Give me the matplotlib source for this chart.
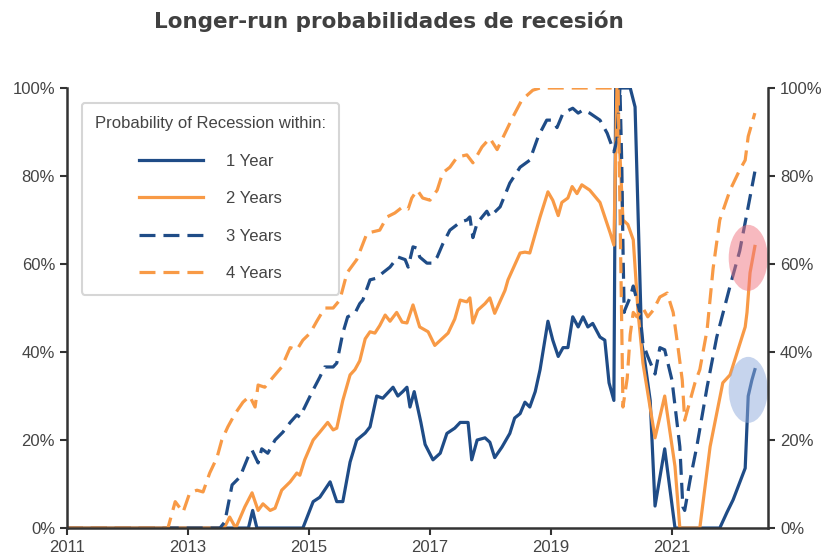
import matplotlib.pyplot as plt
from matplotlib.patches import Ellipse

# decimal years / percent
yr1_x = [2011.0, 2014.00, 2014.07, 2014.14, 2014.90, 2015.07, 2015.18, 2015.35, 2015.46, 2015.56,
         2015.68, 2015.79, 2015.93, 2016.01, 2016.12, 2016.22, 2016.39, 2016.47, 2016.55, 2016.62,
         2016.67, 2016.74, 2016.85, 2016.92, 2017.05, 2017.17, 2017.28, 2017.41, 2017.50, 2017.63,
         2017.69, 2017.78, 2017.91, 2017.99, 2018.07, 2018.19, 2018.32, 2018.40, 2018.49, 2018.57,
         2018.65, 2018.74, 2018.82, 2018.95, 2019.03, 2019.12, 2019.20, 2019.28, 2019.36, 2019.45,
         2019.53, 2019.61, 2019.69, 2019.81, 2019.89, 2019.96, 2020.04, 2020.07, 2020.31, 2020.39,
         2020.50, 2020.55, 2020.64, 2020.72, 2020.88, 2021.05, 2021.79, 2021.91, 2022.01, 2022.21,
         2022.26, 2022.32, 2022.37]
yr1_y = [0, 0, 4, 0, 0, 6, 7, 10.5, 6, 6,
         15, 20, 21.6, 23, 30, 29.5, 32, 30, 31, 32,
         27.5, 31, 24, 19, 15.5, 17, 21.5, 22.7, 24, 24,
         15.5, 20, 20.5, 19.5, 16, 18.4, 21.5, 25, 26, 28.6,
         27.5, 31, 36, 47, 42.7, 39, 41, 41, 48, 45.7,
         48, 45.7, 46.5, 43.4, 42.7, 33, 29, 100, 100, 95.7,
         42, 38, 29, 5, 18, 0, 0, 3.6, 6.4, 13.6,
         30, 33.6, 36]

yr2_x = [2011.0, 2013.60, 2013.69, 2013.79, 2013.94, 2014.06, 2014.16, 2014.24, 2014.36, 2014.44,
         2014.55, 2014.69, 2014.80, 2014.85, 2014.93, 2015.07, 2015.18, 2015.31, 2015.40, 2015.46,
         2015.56, 2015.68, 2015.76, 2015.84, 2015.93, 2016.01, 2016.09, 2016.17, 2016.26, 2016.34,
         2016.45, 2016.54, 2016.62, 2016.72, 2016.83, 2016.97, 2017.08, 2017.30, 2017.41, 2017.50,
         2017.61, 2017.66, 2017.71, 2017.79, 2017.91, 2017.99, 2018.07, 2018.24, 2018.29, 2018.49,
         2018.57, 2018.65, 2018.82, 2018.95, 2019.03, 2019.12, 2019.18, 2019.28, 2019.35, 2019.43,
         2019.51, 2019.64, 2019.81, 2019.89, 2019.98, 2020.04, 2020.09, 2020.19, 2020.27, 2020.36,
         2020.44, 2020.52, 2020.72, 2020.88, 2021.05, 2021.13, 2021.46, 2021.63, 2021.84, 2021.96,
         2022.21, 2022.24, 2022.29, 2022.37]
yr2_y = [0, 0, 2.5, 0, 4.8, 8, 4, 5.5, 4, 4.5,
         8.6, 10.5, 12.5, 12, 15.5, 20, 21.8, 24, 22.3, 22.7,
         29, 34.8, 36, 38, 43, 44.6, 44.3, 46, 48.4, 47,
         49, 46.8, 46.6, 50.7, 45.7, 44.6, 41.5, 44.3, 47.5, 51.8,
         51.4, 52.3, 46.6, 49.5, 51, 52.3, 48.8, 54, 56.4, 62.5,
         62.7, 62.5, 70.7, 76.4, 74.5, 71, 74, 75, 77.6, 76,
         78, 76.8, 74, 70.7, 67, 64.3, 100, 70, 69, 65.5,
         49, 37.5, 20.5, 30, 14, 0, 0, 18.5, 33, 34.8,
         45.7, 49, 58, 64]

yr3_x = [2011.0, 2013.53, 2013.61, 2013.73, 2013.86, 2013.99, 2014.06, 2014.16, 2014.22, 2014.32,
         2014.44, 2014.57, 2014.69, 2014.80, 2014.85, 2014.97, 2015.07, 2015.18, 2015.26, 2015.40,
         2015.46, 2015.56, 2015.64, 2015.76, 2015.84, 2015.89, 2016.01, 2016.12, 2016.22, 2016.34,
         2016.47, 2016.59, 2016.64, 2016.72, 2016.79, 2016.83, 2016.95, 2017.05, 2017.12, 2017.21,
         2017.33, 2017.50, 2017.61, 2017.66, 2017.71, 2017.78, 2017.94, 2017.99, 2018.16, 2018.32,
         2018.49, 2018.65, 2018.79, 2018.93, 2019.02, 2019.10, 2019.20, 2019.36, 2019.45, 2019.53,
         2019.64, 2019.81, 2019.93, 2020.01, 2020.04, 2020.09, 2020.14, 2020.17, 2020.19, 2020.21,
         2020.22, 2020.31, 2020.36, 2020.42, 2020.47, 2020.52, 2020.60, 2020.72, 2020.80, 2020.88,
         2021.00, 2021.13, 2021.18, 2021.21, 2021.30, 2021.41, 2021.58, 2021.74, 2021.96, 2022.12,
         2022.24, 2022.37]
yr3_y = [0, 0, 1.4, 9.8, 11.6, 16, 17.7, 14.8, 18, 17,
         20, 21.8, 24, 25.7, 25.2, 28.6, 31.4, 34.3, 36.6, 36.6,
         37.5, 44.3, 48, 48.8, 51, 51.8, 56.4, 56.8, 58, 59.3,
         61.6, 61, 59.3, 63.9, 63.6, 61.6, 60.2, 60.2, 61.6, 64.5,
         67.7, 69.5, 70, 70.7, 66, 69.3, 72, 70.7, 73, 78.4,
         82, 83.6, 89, 92.7, 92.7, 91, 94.3, 95.4, 94.3, 95,
         94.3, 92.7, 89.7, 86.7, 85.5, 88, 100, 83, 64, 49,
         49.5, 52.5, 55, 51.8, 49, 42, 39, 35, 41, 40.5,
         33.6, 18.5, 4.8, 4, 11, 18.5, 32, 43.4, 55, 63,
         71.6, 81]

yr4_x = [2011.0, 2012.67, 2012.79, 2012.92, 2013.03, 2013.15, 2013.25, 2013.36, 2013.48, 2013.56,
         2013.66, 2013.78, 2013.91, 2014.02, 2014.11, 2014.16, 2014.27, 2014.39, 2014.55, 2014.69,
         2014.80, 2014.90, 2015.02, 2015.13, 2015.26, 2015.40, 2015.51, 2015.63, 2015.79, 2015.96,
         2016.17, 2016.29, 2016.42, 2016.55, 2016.64, 2016.70, 2016.79, 2016.88, 2017.00, 2017.12,
         2017.21, 2017.33, 2017.45, 2017.61, 2017.71, 2017.86, 2017.99, 2018.11, 2018.24, 2018.37,
         2018.52, 2018.70, 2018.82, 2020.11, 2020.19, 2020.26, 2020.31, 2020.36, 2020.42, 2020.52,
         2020.60, 2020.69, 2020.80, 2020.92, 2021.02, 2021.10, 2021.17, 2021.21, 2021.30, 2021.38,
         2021.46, 2021.58, 2021.68, 2021.79, 2021.96, 2022.12, 2022.21, 2022.26, 2022.37]
yr4_y = [0, 0, 6, 3.6, 8, 8.6, 8.2, 12.5, 16, 20,
         23, 26, 28.6, 30, 27.5, 32.5, 32, 34, 36.6, 41,
         40.5, 42.7, 44.3, 47, 50, 50, 51.8, 58, 61, 67,
         67.7, 70.7, 71.6, 73, 72.5, 75, 76.8, 75, 74.5, 76.8,
         80.7, 82, 84.3, 84.8, 83, 86.6, 88.6, 86, 89.7, 93.4,
         97.3, 99.5, 100, 100, 27.5, 34, 44, 49, 48, 50,
         48, 49.5, 52.5, 53.4, 49, 41, 33.6, 24.5, 29, 33,
         36, 45, 59, 70, 76.8, 81.4, 83.6, 89, 94.3]

year_ticks = [2011, 2013, 2015, 2017, 2019, 2021]
pct_ticks = [0, 20, 40, 60, 80, 100]

NAVY = '#1f4c87'
ORANGE = '#f89a46'
DARK = '#333333'
GREY_TXT = '#444444'

plt.rcParams['font.family'] = ['Liberation Sans', 'DejaVu Sans']

fig = plt.figure(figsize=(8.26, 5.57), dpi=100)
ax = fig.add_axes([0.081, 0.052, 0.849, 0.79])

lw = 2.3
ax.plot(yr1_x, yr1_y, color=NAVY, lw=lw, label='1 Year')
ax.plot(yr2_x, yr2_y, color=ORANGE, lw=lw, label='2 Years')
ax.plot(yr3_x, yr3_y, color=NAVY, lw=lw, dashes=(5, 2.5), label='3 Years')
ax.plot(yr4_x, yr4_y, color=ORANGE, lw=lw, dashes=(5, 2.5), label='4 Years')

# highlight circles
ax.add_patch(Ellipse((2022.26, 61.4), 0.645, 15, facecolor='#f07480', alpha=0.5,
                     edgecolor='none', zorder=5))
ax.add_patch(Ellipse((2022.26, 31.4), 0.645, 15, facecolor='#8faadc', alpha=0.5,
                     edgecolor='none', zorder=5))

ax.set_xlim(2011, 2022.59)
ax.set_ylim(0, 100)
ax.set_xticks(year_ticks)
ax.set_xticklabels([str(y) for y in year_ticks])
ax.set_yticks(pct_ticks)
ax.set_yticklabels([f'{p}%' for p in pct_ticks])

ax2 = ax.twinx()
ax2.set_ylim(0, 100)
ax2.set_yticks(pct_ticks)
ax2.set_yticklabels([f'{p}%' for p in pct_ticks])

for a in (ax, ax2):
    a.spines['top'].set_visible(False)
    for s in ('left', 'right', 'bottom'):
        a.spines[s].set_color(DARK)
        a.spines[s].set_linewidth(1.8)
    a.tick_params(axis='both', colors=DARK, labelcolor=GREY_TXT, labelsize=12,
                  width=1.5, length=5, direction='out')
ax.spines['right'].set_visible(False)
ax2.spines['left'].set_visible(False)
ax2.spines['bottom'].set_visible(False)

leg = ax.legend(title='Probability of Recession within:', loc='upper left',
                bbox_to_anchor=(0.021, 0.966), borderaxespad=0, fontsize=12,
                title_fontsize=12, handlelength=3.8, handletextpad=1.4,
                labelspacing=1.35, borderpad=0.8, frameon=True, fancybox=True)
leg.get_frame().set_edgecolor('#cccccc')
leg.get_frame().set_linewidth(1.5)
leg.get_title().set_color(GREY_TXT)
for t in leg.get_texts():
    t.set_color(GREY_TXT)

fig.text(0.471, 0.962, 'Longer-run probabilidades de recesión', ha='center', va='center',
         fontsize=15.5, fontweight='bold', color='#404040', family='DejaVu Sans')

fig.savefig('out.png', dpi=100)
